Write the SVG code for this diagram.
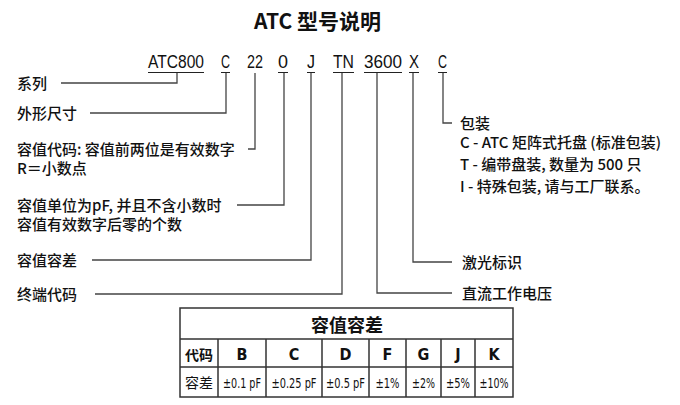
<svg xmlns="http://www.w3.org/2000/svg" width="680" height="405" viewBox="0 0 680 405">
<style>
  .t{font-family:"Noto Sans CJK SC","Liberation Sans",sans-serif;font-size:15px;font-weight:500;fill:#111}
  .pn{font-family:"Liberation Sans Narrow","Liberation Sans",sans-serif;font-size:18px;fill:#111}
  .ul{stroke:#222;stroke-width:1.2;fill:none}
  .ln{stroke:#444;stroke-width:1.3;fill:none}
  .tb{stroke:#333;stroke-width:1.5;fill:none}
  .th{font-family:"Noto Sans CJK SC",sans-serif;font-size:18px;font-weight:bold;fill:#111;text-anchor:middle}
  .tc{font-family:"Liberation Sans Narrow","DejaVu Sans Condensed","Liberation Sans",sans-serif;font-size:16px;font-weight:bold;fill:#111;text-anchor:middle}
  .tv{font-family:"Liberation Sans Narrow","DejaVu Sans Condensed","Liberation Sans",sans-serif;font-size:14px;fill:#111;text-anchor:middle}
  .tk{font-family:"Noto Sans CJK SC",sans-serif;font-size:14px;fill:#111;text-anchor:middle}
</style>
<rect width="680" height="405" fill="#fff"/>
<g id="title">
  <text x="317.5" y="29" text-anchor="middle" style="font-family:'Noto Sans CJK SC','Liberation Sans',sans-serif;font-size:21px;font-weight:bold;fill:#111">ATC 型号说明</text>
</g>
<g id="partnumber">
  <text class="pn" x="148" y="68" textLength="56" lengthAdjust="spacingAndGlyphs">ATC800</text>
  <text class="pn" x="221" y="68" textLength="9" lengthAdjust="spacingAndGlyphs">C</text>
  <text class="pn" x="247" y="68" textLength="16" lengthAdjust="spacingAndGlyphs">22</text>
  <text class="pn" x="278" y="68" textLength="10" lengthAdjust="spacingAndGlyphs">0</text>
  <text class="pn" x="307" y="68" textLength="8" lengthAdjust="spacingAndGlyphs">J</text>
  <text class="pn" x="333" y="68" textLength="21" lengthAdjust="spacingAndGlyphs">TN</text>
  <text class="pn" x="364" y="68" textLength="38" lengthAdjust="spacingAndGlyphs">3600</text>
  <text class="pn" x="409" y="68" textLength="10" lengthAdjust="spacingAndGlyphs">X</text>
  <text class="pn" x="438" y="68" textLength="9" lengthAdjust="spacingAndGlyphs">C</text>
  <path class="ul" d="M148 72.5H204 M221 72.5H230 M278 72.5H288 M307 72.5H315 M333 72.5H354 M364 72.5H402 M409 72.5H419 M438 72.5H447"/>
</g>
<g id="connectors">
  <path class="ln" d="M177 73V83H61"/>
  <path class="ln" d="M226 73V113H90"/>
  <path class="ln" d="M255 73V149H248"/>
  <path class="ln" d="M284 73V205H237"/>
  <path class="ln" d="M311 73V260H92"/>
  <path class="ln" d="M342 73V294H95"/>
  <path class="ln" d="M377 73V293H452"/>
  <path class="ln" d="M413 73V262H452"/>
  <path class="ln" d="M443 73V123H452"/>
</g>
<g id="n-series"><text class="t" x="17" y="88.5">系列</text></g>
<g id="n-size"><text class="t" x="17" y="118.5">外形尺寸</text></g>
<g id="n-capcode">
  <text class="t" x="17" y="154.5">容值代码: 容值前两位是有效数字</text>
  <text class="t" x="17" y="173.5">R＝小数点</text>
</g>
<g id="n-zeros">
  <text class="t" x="17" y="210.5">容值单位为pF, 并且不含小数时</text>
  <text class="t" x="17" y="229.5">容值有效数字后零的个数</text>
</g>
<g id="n-tol"><text class="t" x="17" y="265.5">容值容差</text></g>
<g id="n-term"><text class="t" x="17" y="299.5">终端代码</text></g>
<g id="n-pack">
  <text class="t" x="460" y="128.5">包装</text>
  <text class="t" x="460" y="147.5">C - ATC 矩阵式托盘 (标准包装)</text>
  <text class="t" x="460" y="170">T - 编带盘装, 数量为 500 只</text>
  <text class="t" x="460" y="192">I - 特殊包装, 请与工厂联系。</text>
</g>
<g id="n-laser"><text class="t" x="462" y="267.5">激光标识</text></g>
<g id="n-volt"><text class="t" x="462" y="298.5">直流工作电压</text></g>
<g id="table">
  <rect class="tb" x="180" y="308" width="333" height="89"/>
  <path class="tb" d="M180 339H513 M180 367H513 M218 339V397 M266 339V397 M322 339V397 M369 339V397 M406 339V397 M441 339V397 M475 339V397"/>
  <text class="th" x="347" y="332">容值容差</text>
  <text class="tk" x="199" y="360" font-weight="bold">代码</text>
  <text class="tc" x="242" y="360">B</text>
  <text class="tc" x="294" y="360">C</text>
  <text class="tc" x="345.5" y="360">D</text>
  <text class="tc" x="387.5" y="360">F</text>
  <text class="tc" x="423.5" y="360">G</text>
  <text class="tc" x="458" y="360">J</text>
  <text class="tc" x="494" y="360">K</text>
  <text class="tk" x="199" y="388">容差</text>
  <text class="tv" x="242" y="388" textLength="38" lengthAdjust="spacingAndGlyphs">±0.1 pF</text>
  <text class="tv" x="294" y="388" textLength="45" lengthAdjust="spacingAndGlyphs">±0.25 pF</text>
  <text class="tv" x="345.5" y="388" textLength="39" lengthAdjust="spacingAndGlyphs">±0.5 pF</text>
  <text class="tv" x="387.5" y="388" textLength="24" lengthAdjust="spacingAndGlyphs">±1%</text>
  <text class="tv" x="423.5" y="388" textLength="23" lengthAdjust="spacingAndGlyphs">±2%</text>
  <text class="tv" x="458" y="388" textLength="24" lengthAdjust="spacingAndGlyphs">±5%</text>
  <text class="tv" x="494" y="388" textLength="29" lengthAdjust="spacingAndGlyphs">±10%</text>
</g>
</svg>
